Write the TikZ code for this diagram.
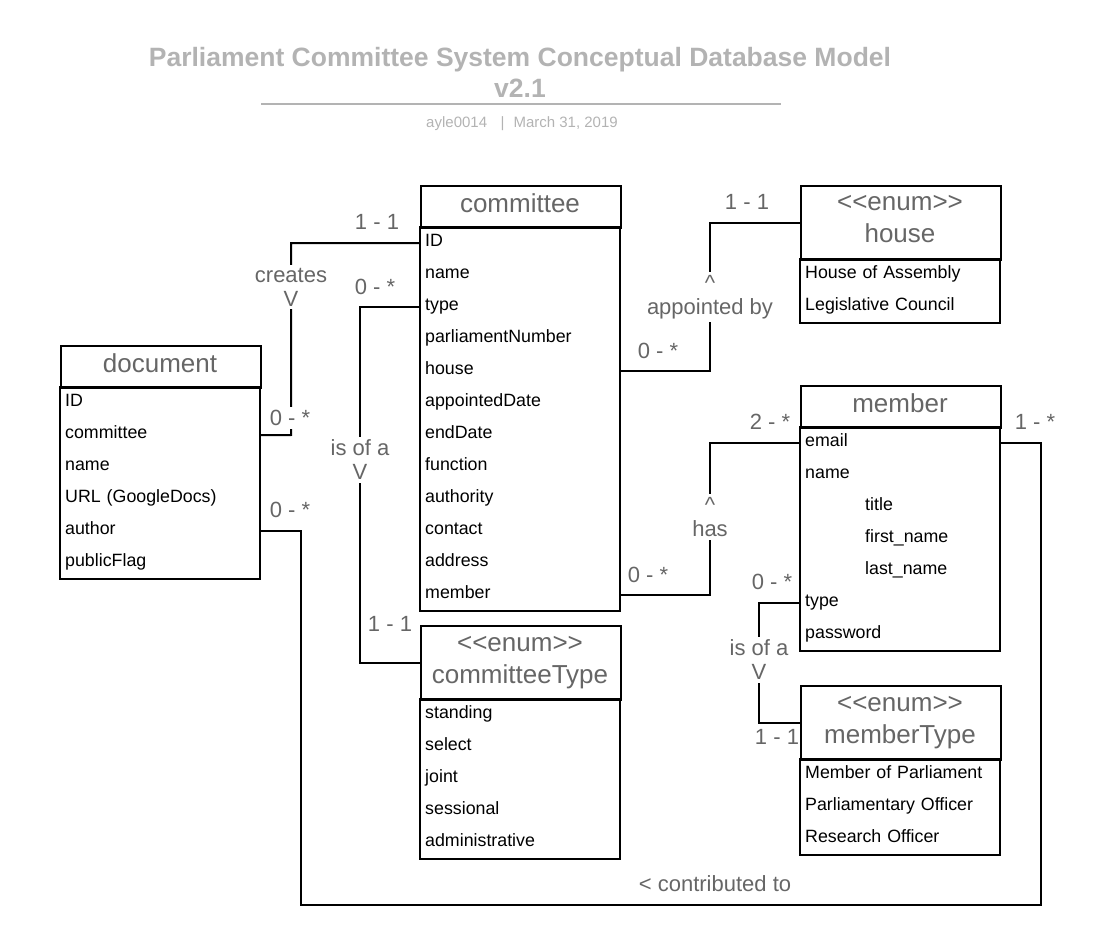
\documentclass[tikz,border=0pt]{standalone}
\usepackage{fontspec}
\setmainfont{Liberation Sans}[Ligatures=TeXOff]
\usetikzlibrary{fit}
\definecolor{tgray}{HTML}{B3B3B3}
\definecolor{lgray}{HTML}{666666}
\definecolor{hgray}{HTML}{666666}
\tikzset{
  conn/.style={line width=2pt, line join=miter},
  hdr/.style={draw, line width=2pt, anchor=north west, minimum width=200pt, inner sep=0pt},
  htxt/.style={anchor=base, inner sep=0pt, text=hgray, font=\fontsize{26}{31}\selectfont},
  row/.style={anchor=north west, minimum width=200pt, minimum height=32pt, text width=190pt, text height=12pt, text depth=5pt, inner xsep=5pt, inner ysep=0pt, align=left, font=\fontsize{17.8}{20}\selectfont},
  body/.style={draw, line width=2pt, inner sep=0pt},
  lbl/.style={text=lgray, font=\fontsize{22}{24}\selectfont, inner sep=1pt, align=center},
  onl/.style={lbl, fill=white, inner sep=3pt},
}
\begin{document}
\begin{tikzpicture}[x=1pt,y=-1pt]
\useasboundingbox (0,0) rectangle (1096,947);
% title
\node[font=\bfseries\fontsize{26.5}{31}\selectfont, text=tgray, align=center] (title) at (520,72) {Parliament Committee System Conceptual Database Model\\v2.1};
\coordinate (rl) at (261,104);
\coordinate (rr) at (781,104);
\draw[tgray, line width=2pt] (rl) -- (rr);
\node[text=tgray, font=\fontsize{15}{17}\selectfont] (sub) at (522,124) {ayle0014\hspace{0.9em}|\hspace{0.6em}March 31, 2019};

% committee
\node[hdr, minimum height=42pt] (cH) at (420,185) {};
\node[htxt] (cHt) at (520,212) {committee};
\foreach \t/\n [count=\i] in {ID/cID, name/cName, type/cType, parliamentNumber/cPN, house/cHouse, appointedDate/cAD, endDate/cED, function/cFn, authority/cAu, contact/cCo, address/cAd, member/cMember}
  \node[row] (\n) at (420,{227+32*(\i-1)}) {\t};
\node[body, fit=(cID)(cMember)] (cB) {};

% document
\node[hdr, minimum height=42pt] (dH) at (60,345) {};
\node[htxt] (dHt) at (160,372) {document};
\foreach \t/\n [count=\i] in {ID/dID, committee/dCom, name/dName, URL (GoogleDocs)/dURL, author/dAuthor, publicFlag/dPF}
  \node[row] (\n) at (60,{387+32*(\i-1)}) {\t};
\node[body, fit=(dID)(dPF)] (dB) {};

% house
\node[hdr, minimum height=74pt] (hH) at (800,185) {};
\node[htxt] (hHt1) at (900,211) {<<enum>>};
\node[htxt] (hHt2) at (900,243) {house};
\foreach \t/\n [count=\i] in {House of Assembly/hHA, Legislative Council/hLC}
  \node[row] (\n) at (800,{259+32*(\i-1)}) {\t};
\node[body, fit=(hHA)(hLC)] (hB) {};

% member
\node[hdr, minimum height=42pt] (mH) at (800,385) {};
\node[htxt] (mHt) at (900,412) {member};
\foreach \t/\n [count=\i] in {email/mEmail, name/mName, \hspace*{60pt}title/mTitle, \hspace*{60pt}first\_name/mFirst, \hspace*{60pt}last\_name/mLast, type/mType, password/mPw}
  \node[row] (\n) at (800,{427+32*(\i-1)}) {\t};
\node[body, fit=(mEmail)(mPw)] (mB) {};

% committeeType
\node[hdr, minimum height=74pt] (ctH) at (420,625) {};
\node[htxt] (ctHt1) at (520,651) {<<enum>>};
\node[htxt] (ctHt2) at (520,683) {committeeType};
\foreach \t/\n [count=\i] in {standing/ct1, select/ct2, joint/ct3, sessional/ct4, administrative/ct5}
  \node[row] (\n) at (420,{699+32*(\i-1)}) {\t};
\node[body, fit=(ct1)(ct5)] (ctB) {};

% memberType
\node[hdr, minimum height=74pt] (mtH) at (800,685) {};
\node[htxt] (mtHt1) at (900,711) {<<enum>>};
\node[htxt] (mtHt2) at (900,743) {memberType};
\foreach \t/\n [count=\i] in {Member of Parliament/mt1, Parliamentary Officer/mt2, Research Officer/mt3}
  \node[row] (\n) at (800,{759+32*(\i-1)}) {\t};
\node[body, fit=(mt1)(mt3)] (mtB) {};

% connectors
\coordinate (k1) at (291,435);
\draw[conn] (cID.west) -| (k1) -- (dCom.east);
\draw[conn] (cType.west) -- ++(-60,0) |- (ctH.west);
\draw[conn] (cHouse.east) -- ++(90,0) |- (hH.west);
\draw[conn] (cMember.east) -- ++(90,0) |- (mEmail.west);
\draw[conn] (mType.west) -- ++(-41,0) |- (mtH.west);
\coordinate (k3) at (301,905);
\draw[conn] (mEmail.east) -- ++(41,0) |- (k3) |- (dAuthor.east);

% labels
\node[lbl] (L1) at (377,222) {1 - 1};
\node[onl] (L2) at (291,287) {creates\\V};
\node[onl] (L3) at (290,418) {0 - *};
\node[lbl] (L4) at (375,287) {0 - *};
\node[onl] (L5) at (360,460) {is of a\\V};
\node[lbl] (L6) at (390,624) {1 - 1};
\node[lbl] (L7) at (747,202) {1 - 1};
\node[onl] (L8) at (710,297) {\textasciicircum\\appointed by};
\node[lbl] (L9) at (658,351) {0 - *};
\node[lbl] (L10) at (770,422) {2 - *};
\node[onl] (L11) at (710,517) {\textasciicircum\\has};
\node[lbl] (L12) at (648,575) {0 - *};
\node[lbl] (L13) at (1035,422) {1 - *};
\node[lbl] (L14) at (772,582) {0 - *};
\node[onl] (L15) at (759,660) {is of a\\V};
\node[lbl] (L16) at (777,737) {1 - 1};
\node[lbl] (L17) at (715,884) {< contributed to};
\node[lbl] (L18) at (290,510) {0 - *};
\end{tikzpicture}
\end{document}
